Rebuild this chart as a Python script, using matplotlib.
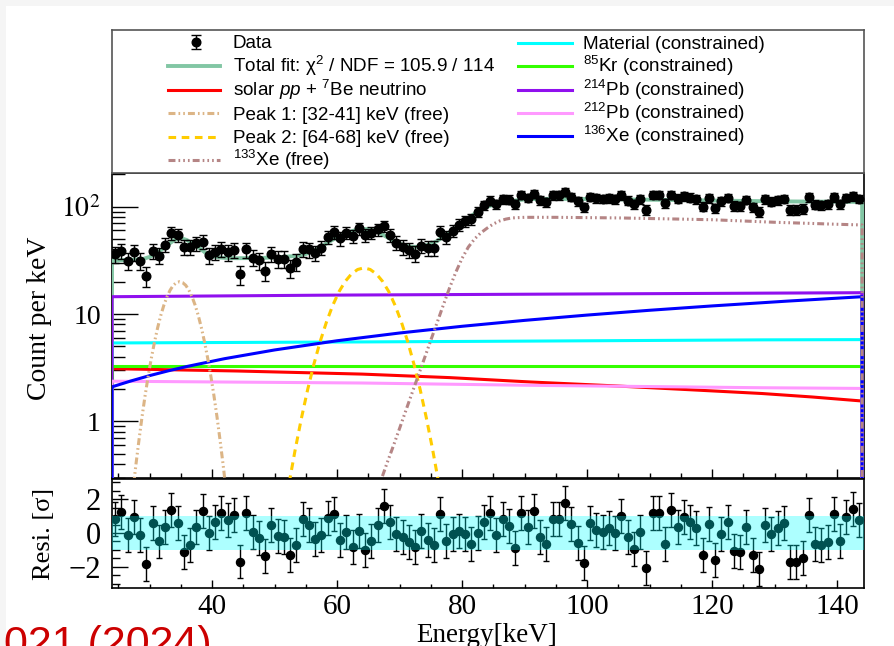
import numpy as np
import matplotlib
matplotlib.use("Agg")
import matplotlib.pyplot as plt
from matplotlib.ticker import MultipleLocator, LogLocator, NullFormatter, FixedLocator, FixedFormatter
from matplotlib.patches import Rectangle

plt.rcParams['font.family'] = ['Liberation Serif', 'DejaVu Serif']
plt.rcParams['mathtext.fontset'] = 'custom'
plt.rcParams['mathtext.rm'] = 'Liberation Sans'
plt.rcParams['mathtext.it'] = 'Liberation Sans:italic'
plt.rcParams['mathtext.bf'] = 'Liberation Sans:bold'
plt.rcParams['lines.scale_dashes'] = False

# ---------------- data ----------------
bin_energy = np.arange(24.5, 144.0, 1.0)  # 1 keV bins, 24-144 keV

data_rate = [36.0, 38.7, 31.3, 37.5, 31.5, 22.4, 38.4, 34.9, 44.2, 56.5,
             54.6, 42.2, 42.3, 45.5, 47.1, 35.4, 37.8, 40.3, 37.5, 39.2,
             23.4, 39.9, 33.5, 31.6, 25.4, 36.4, 32.6, 32.6, 26.8, 30.7,
             40.4, 39.9, 37.2, 41.6, 52.1, 57.8, 50.5, 57.1, 53.3, 62.6,
             54.1, 57.3, 61.4, 65.7, 54.5, 46.0, 42.3, 39.2, 36.6, 43.4,
             41.3, 41.0, 57.8, 51.7, 59.4, 68.0, 73.3, 76.1, 89.8, 103.6,
             113.7, 104.8, 117.4, 116.3, 104.8, 128.5, 121.0, 132.2, 115.3, 110.7,
             127.1, 127.1, 137.3, 123.5, 111.8, 98.9, 123.7, 119.4, 118.1, 119.9,
             116.6, 127.4, 114.0, 106.1, 116.9, 93.9, 128.1, 127.9, 108.2, 129.5,
             118.8, 124.5, 121.6, 117.1, 100.2, 119.5, 96.7, 112.5, 120.3, 101.9,
             101.1, 116.1, 98.7, 90.0, 117.0, 111.1, 115.1, 118.2, 93.3, 93.4,
             95.7, 122.3, 104.3, 103.4, 105.4, 122.5, 105.9, 120.6, 125.2, 118.6]

residual = [0.80, 1.24, -0.10, 0.96, -0.14, -1.84, 0.58, -0.50, 0.34, 1.38,
            0.58, -1.10, -0.68, 0.38, 1.30, -0.02, 0.66, 1.18, 0.74, 1.06,
            -1.68, 1.18, 0.06, -0.30, -1.38, 0.48, -0.20, -0.25, -1.30, -0.70,
            0.82, 0.47, -0.37, -0.14, 0.90, 1.10, -0.41, 0.08, -0.80, 0.14,
            -1.00, -0.47, 0.45, 1.59, 0.63, -0.08, -0.25, -0.51, -0.84, 0.14,
            -0.41, -0.73, 1.10, -0.45, -0.08, 0.12, -0.08, -0.65, -0.02, 0.67,
            1.16, -0.12, 0.80, 0.41, -0.86, 1.16, 0.37, 1.31, -0.25, -0.67,
            0.84, 0.84, 1.78, 0.51, -0.57, -1.76, 0.57, 0.18, 0.08, 0.27,
            -0.02, 1.00, -0.22, -0.94, 0.08, -2.04, 1.16, 1.16, -0.65, 1.35,
            0.37, 0.92, 0.67, 0.27, -1.29, 0.53, -1.59, -0.08, 0.67, -1.04,
            -1.10, 0.33, -1.29, -2.10, 0.47, -0.08, 0.31, 0.61, -1.73, -1.71,
            -1.49, 1.04, -0.65, -0.73, -0.53, 1.10, -0.47, 0.94, 1.39, 0.76]

fit_energy = [24, 26, 28, 29, 30, 31, 32, 33, 34, 35, 36, 37, 38, 39, 40, 41, 42, 44, 48, 51,
              53, 54, 55, 56, 57, 58, 59, 60, 61, 62, 63, 64, 65, 66, 67, 68, 69, 70, 71, 72,
              73, 74, 75, 76, 77, 78, 79, 80, 81, 82, 83, 84, 85, 86, 87, 88, 89, 90, 91,
              93, 97, 100, 110, 120, 130, 144]
fit_rate = [31.4, 31.8, 32.2, 32.6, 34.0, 36.4, 40.0, 44.5, 49.0, 51.0, 48.8, 45.0, 41.0, 37.0,
            34.6, 33.7, 33.3, 33.1, 33.3, 33.9,
            34.6, 35.1, 36.2, 38.2, 41.0, 44.2, 48.0, 51.8, 55.0, 58.0, 60.6, 61.9, 61.7, 59.7,
            56.0, 52.0, 48.2, 45.2, 43.2, 42.2, 42.2, 43.2, 45.0, 47.8, 52.5, 57.5, 63.5, 70.5,
            78.0, 86.0, 93.5, 99.5, 104.0, 107.5, 110.5, 113.0, 115.0, 116.5, 117.5,
            118.0, 118.0, 117.7, 116.0, 114.0, 112.0, 110.6]

pp7be_energy = [24, 44, 64, 78, 91, 104, 116, 128, 136, 144]
pp7be_rate = [3.10, 2.95, 2.76, 2.56, 2.33, 2.15, 1.98, 1.82, 1.69, 1.55]

peak1_energy = [26.8, 27.3, 27.8, 28.3, 28.8, 29.3, 29.8, 30.3, 30.8, 31.3, 31.8, 32.3, 32.8,
                33.3, 33.8, 34.3, 34.8, 35.3, 35.8, 36.3, 36.8, 37.3, 37.8, 38.3, 38.8, 39.3,
                39.8, 40.3, 40.8, 41.3, 41.8, 42.3, 42.8]
peak1_rate = [0.115, 0.215, 0.385, 0.66, 1.1, 1.75, 2.67, 3.9, 5.5, 7.45, 9.7, 12.1, 14.5,
              16.7, 18.5, 19.6, 20.0, 19.6, 18.5, 16.7, 14.5, 12.1, 9.7, 7.45, 5.5, 3.9,
              2.67, 1.75, 1.1, 0.66, 0.385, 0.215, 0.115]

peak2_energy = [51.3, 52.3, 53.3, 54.3, 55.3, 56.3, 57.3, 58.3, 59.3, 60.3, 61.3, 62.3, 63.3,
                64.3, 65.3, 66.3, 67.3, 68.3, 69.3, 70.3, 71.3, 72.3, 73.3, 74.3, 75.3, 76.3, 77.3]
peak2_rate = [0.116, 0.26, 0.544, 1.07, 1.98, 3.42, 5.55, 8.4, 12.0, 16.1, 20.1, 23.6, 26.0,
              26.9, 26.0, 23.6, 20.1, 16.1, 12.0, 8.4, 5.55, 3.42, 1.98, 1.07, 0.544, 0.26, 0.116]

xe133_energy = [66, 67, 68, 69, 70, 71, 72, 73, 74, 75, 76, 77, 78, 79, 80, 81, 82, 83, 84, 85,
                86, 87, 88, 90, 95, 100, 105, 110, 115, 120, 125, 130, 135, 140, 144]
xe133_rate = [0.19, 0.28, 0.41, 0.59, 0.86, 1.26, 1.84, 2.68, 3.9, 5.7, 8.3, 12.1, 17.5, 24.5,
              33, 42, 50, 57, 63, 69, 73.5, 76.5, 78.5, 79.5, 79.5, 79, 78.5, 77.5, 76.5, 75.5,
              73.5, 71.5, 70, 68.5, 67.5]

material_energy = [24, 64, 91, 128, 144]
material_rate = [5.38, 5.50, 5.60, 5.75, 5.78]

kr85_energy = [24, 144]
kr85_rate = [3.30, 3.30]

pb214_energy = [24, 59, 91, 144]
pb214_rate = [14.5, 15.0, 15.3, 15.8]

pb212_energy = [24, 64, 91, 128, 144]
pb212_rate = [2.37, 2.28, 2.17, 2.06, 2.03]

xe136_energy = [24, 27, 30, 33, 36, 42, 50, 60, 70, 80, 90, 100, 110, 120, 132, 144]
xe136_rate = [2.10, 2.38, 2.67, 2.96, 3.25, 3.84, 4.63, 5.64, 6.66, 7.69, 8.73, 9.78,
              10.84, 11.90, 13.19, 14.5]

legend_left = ["Data",
               "Total fit: \u03c7$^{2}$ / NDF = 105.9 / 114",
               "solar $\\mathit{pp}$ + $^{7}$Be neutrino",
               "Peak 1: [32-41] keV (free)",
               "Peak 2: [64-68] keV (free)",
               "$^{133}$Xe (free)"]
legend_right = ["Material (constrained)",
                "$^{85}$Kr (constrained)",
                "$^{214}$Pb (constrained)",
                "$^{212}$Pb (constrained)",
                "$^{136}$Xe (constrained)"]

E_MIN, E_MAX = 24.0, 144.0

# ---------------- styles ----------------
LW = 2.2
styles = {
    'fit': dict(color='#82c6a4', lw=2.8, ls='-'),
    'pp': dict(color='#ff0000', lw=LW, ls='-'),
    'peak1': dict(color='#dcb586', lw=LW, ls=(0, (5.0, 2.2, 1.2, 2.2, 1.2, 2.2))),
    'peak2': dict(color='#ffcc00', lw=LW, ls=(0, (5.5, 4.0))),
    'xe133': dict(color='#b58585', lw=LW, ls=(0, (5.0, 2.2, 1.2, 2.2, 1.2, 2.2, 1.2, 2.2))),
    'material': dict(color='#00ffff', lw=LW, ls='-'),
    'kr85': dict(color='#33ff00', lw=LW, ls='-'),
    'pb214': dict(color='#9010ee', lw=LW, ls='-'),
    'pb212': dict(color='#ff99ff', lw=LW, ls='-'),
    'xe136': dict(color='#0000ff', lw=LW, ls='-'),
}

W, H = 894, 646


def X(px):
    return px / W


def Y(py):
    return 1 - py / H


def rect(l, t, r, b):
    return [X(l), Y(b), (r - l) / W, (b - t) / H]


fig = plt.figure(figsize=(W / 100, H / 100), dpi=100)
fig.patch.set_facecolor('#f5f5f5')
fig.add_artist(Rectangle((X(6), 0), 1 - X(6), Y(6), transform=fig.transFigure,
                         facecolor='white', edgecolor='none', zorder=-10))

# ---------------- main panel ----------------
ax = fig.add_axes(rect(112, 173, 864, 478))
ax.set_yscale('log')


def closed(e, v, left_edge=False, right_edge=False):
    e = list(e)
    v = list(v)
    if left_edge:
        e = [e[0]] + e
        v = [0.0] + v
    if right_edge:
        e = e + [e[-1]]
        v = v + [0.0]
    return e, v


curves = [
    ('fit', fit_energy, fit_rate, True, True),
    ('pp', pp7be_energy, pp7be_rate, True, True),
    ('material', material_energy, material_rate, True, True),
    ('kr85', kr85_energy, kr85_rate, True, True),
    ('pb214', pb214_energy, pb214_rate, True, True),
    ('pb212', pb212_energy, pb212_rate, True, True),
    ('xe136', xe136_energy, xe136_rate, True, True),
    ('peak1', peak1_energy, peak1_rate, False, False),
    ('peak2', peak2_energy, peak2_rate, False, False),
    ('xe133', xe133_energy, xe133_rate, False, True),
]
for z, (key, e, v, le, re) in enumerate(curves):
    ee, vv = closed(e, v, le, re)
    st = styles[key]
    ax.plot(ee, vv, color=st['color'], lw=st['lw'], linestyle=st['ls'], zorder=3 + 0.01 * z)

data_arr = np.array(data_rate)
ax.errorbar(bin_energy, data_arr, yerr=np.sqrt(data_arr), fmt='o', color='black',
            ms=6.2, elinewidth=1.0, capsize=2.6, capthick=1.0, zorder=5)

ax.set_xlim(E_MIN, 144.3)
ax.set_ylim(0.2976, 205.6)
ax.yaxis.set_major_locator(FixedLocator([1, 10, 100]))
ax.yaxis.set_major_formatter(FixedFormatter(['1', '10', '$10^{2}$']))
ax.yaxis.set_minor_locator(LogLocator(base=10, subs=np.arange(2, 10)))
ax.yaxis.set_minor_formatter(NullFormatter())
ax.xaxis.set_major_locator(MultipleLocator(20))
ax.xaxis.set_minor_locator(MultipleLocator(5))
ax.tick_params(axis='y', which='major', direction='in', length=19, width=1.0,
               labelsize=20, pad=8, left=True, right=False)
ax.tick_params(axis='y', which='minor', direction='in', length=9.5, width=1.0, left=True, right=False)
ax.tick_params(axis='x', which='major', direction='in', length=6.5, width=1.0,
               labelbottom=False, bottom=True, top=False)
ax.tick_params(axis='x', which='minor', direction='in', length=3.6, width=1.0, bottom=True, top=False)
for lbl in ax.get_yticklabels():
    lbl.set_math_fontfamily('stix')
for s in ax.spines.values():
    s.set_linewidth(1.2)

# ---------------- residual panel ----------------
axr = fig.add_axes(rect(112, 479, 864, 588))
axr.errorbar(bin_energy, residual, yerr=1.0, fmt='o', color='black', ms=5.8,
             elinewidth=1.0, capsize=2.4, capthick=1.0, zorder=3)
axr.axhspan(-1, 1, color='#00ffff', alpha=0.32, lw=0, zorder=6)
axr.set_xlim(E_MIN, 144.3)
axr.set_ylim(-3.24, 3.18)
axr.yaxis.set_major_locator(MultipleLocator(2))
axr.yaxis.set_minor_locator(MultipleLocator(0.5))
axr.xaxis.set_major_locator(MultipleLocator(20))
axr.xaxis.set_minor_locator(MultipleLocator(5))
axr.tick_params(axis='y', which='major', direction='in', length=11.5, width=1.0,
                labelsize=22, pad=8, left=True, right=False)
axr.tick_params(axis='y', which='minor', direction='in', length=5.8, width=1.0, left=True, right=False)
axr.tick_params(axis='x', which='major', direction='in', length=6, width=1.0,
                labelsize=21, pad=4, bottom=True, top=False)
axr.tick_params(axis='x', which='minor', direction='in', length=3, width=1.0, bottom=True, top=False)
for s in axr.spines.values():
    s.set_linewidth(1.2)

# axis titles
fig.text(X(40), Y(318), 'Count per keV', rotation=90, ha='center', va='center', fontsize=20)
fig.text(X(44), Y(534), 'Resi. [\u03c3]', rotation=90, ha='center', va='center', fontsize=19)
fig.text(X(487), Y(635), 'Energy[keV]', ha='center', va='center', fontsize=19.5)

# ---------------- legend box ----------------
leg = fig.add_axes(rect(112, 30, 864, 173))
leg.set_xlim(112, 864)
leg.set_ylim(173, 30)
leg.set_xticks([])
leg.set_yticks([])
for s in leg.spines.values():
    s.set_linewidth(1.2)
    s.set_color('#555555')

left_rows = [42, 66, 90, 113, 136.5, 160]
right_rows = [42.5, 66, 89.5, 112.5, 136]
left_keys = [None, 'fit', 'pp', 'peak1', 'peak2', 'xe133']
right_keys = ['material', 'kr85', 'pb214', 'pb212', 'xe136']
txt_kw = dict(fontsize=13.6, family=['Liberation Sans', 'DejaVu Sans'], va='baseline', ha='left')

for y, key, label in zip(left_rows, left_keys, legend_left):
    if key is None:
        leg.errorbar([196], [y], yerr=[[7], [7]], fmt='o', color='black', ms=6.2,
                     elinewidth=1.0, capsize=3.5, capthick=1.0)
    else:
        st = styles[key]
        leg.plot([168, 220], [y, y], color=st['color'], lw=st['lw'], linestyle=st['ls'])
    leg.text(233, y + 6.5, label, **txt_kw)

for y, key, label in zip(right_rows, right_keys, legend_right):
    st = styles[key]
    leg.plot([518, 572], [y, y], color=st['color'], lw=st['lw'], linestyle=st['ls'])
    leg.text(583, y + 6.5, label, **txt_kw)

# partially visible red citation text at the bottom edge (cut off as in the reference)
fig.text(X(4), Y(656), '021 (2024)', color='#cc0000', fontsize=31,
         family=['Liberation Sans', 'DejaVu Sans'], va='baseline', ha='left')

fig.savefig('out.png', dpi=100, facecolor=fig.get_facecolor())
